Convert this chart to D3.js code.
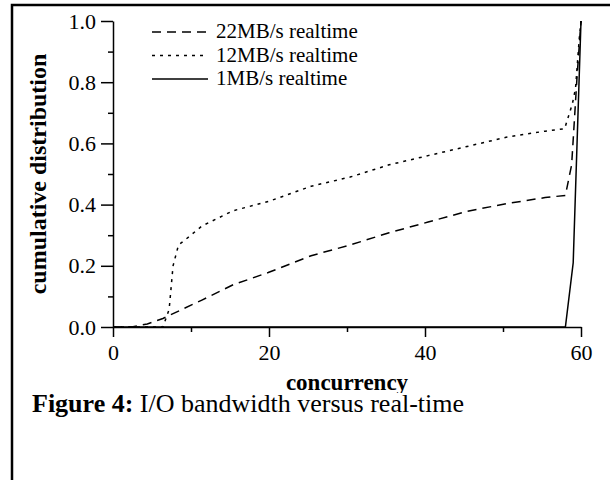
<!DOCTYPE html>
<html>
<head>
<meta charset="utf-8">
<script src="https://cdn.jsdelivr.net/npm/d3@7"></script>
<style>
    body { margin: 0; background: #fff; }
    svg { display: block; }
    text { font-family: "Liberation Serif", "Times New Roman", serif; fill: #000; }
</style>
</head>
<body>
<svg width="610" height="480"></svg>
<script>
    // values (concurrency, cumulative fraction)
    const series22X = [0, 2.4, 4.4, 6.4, 8.9, 11.4, 15.4, 19.9, 25.4, 30.4, 35.4, 40.4, 45.4, 50.4, 55.4, 58, 58.8, 59.5, 60];
    const series22Y = [0, 0, 0.01, 0.028, 0.058, 0.088, 0.138, 0.178, 0.233, 0.268, 0.308, 0.343, 0.378, 0.403, 0.423, 0.43, 0.53, 0.82, 1.0];
    const series12X = [0, 6.4, 7.2, 7.7, 8.4, 9.4, 11.4, 15.4, 19.9, 25.4, 30.4, 35.4, 40.4, 45.4, 50.4, 55.4, 57.9, 58.9, 59.3, 59.8, 60];
    const series12Y = [0, 0, 0.058, 0.2, 0.268, 0.288, 0.33, 0.38, 0.41, 0.46, 0.49, 0.53, 0.56, 0.59, 0.62, 0.64, 0.648, 0.73, 0.78, 0.95, 1.0];
    const series1X = [0, 58, 59, 60];
    const series1Y = [0, 0, 0.21, 1.0];

    const legendLabels = ["22MB/s realtime", "12MB/s realtime", "1MB/s realtime"];
    const dashes = ["9,6", "3,5", null];
    const xTicks = [0, 20, 40, 60];
    const xMinor = [10, 30, 50];
    const yTicks = [0, 0.2, 0.4, 0.6, 0.8, 1.0];
    const yMinor = [0.1, 0.3, 0.5, 0.7, 0.9];

(() => {
    const serif = "'Liberation Serif', 'Times New Roman', serif";
    const svg = d3.select("svg");

    const padLeft = 113, padTop = 21, width = 468, height = 306;

    // frame round the figure, right and bottom edges run off the picture
    svg.append("rect")
        .attr("x", 12)
        .attr("y", 5)
        .attr("width", 620)
        .attr("height", 500)
        .attr("fill", "none")
        .attr("stroke", "#000")
        .attr("stroke-width", 2.5);

    const x = d3.scaleLinear().domain([0, 60]).range([padLeft, padLeft + width]);
    const y = d3.scaleLinear().domain([0, 1]).range([padTop + height, padTop]);

    const g = svg.append("g");

    g.append("g")
        .attr("transform", `translate(0,${padTop + height})`)
        .call(d3.axisBottom(x).tickValues(xTicks).tickSize(10).tickSizeOuter(0).tickPadding(7).tickFormat(d3.format("d")));
    g.append("g")
        .attr("transform", `translate(0,${padTop + height})`)
        .call(d3.axisBottom(x).tickValues(xMinor).tickSize(5).tickSizeOuter(0).tickFormat(""))
        .select(".domain").remove();

    g.append("g")
        .attr("transform", `translate(${padLeft},0)`)
        .call(d3.axisLeft(y).tickValues(yTicks).tickSize(12).tickSizeOuter(0).tickPadding(5).tickFormat(d3.format(".1f")));
    g.append("g")
        .attr("transform", `translate(${padLeft},0)`)
        .call(d3.axisLeft(y).tickValues(yMinor).tickSize(5).tickSizeOuter(0).tickFormat(""))
        .select(".domain").remove();

    g.selectAll(".domain, .tick line").attr("stroke", "#000").attr("stroke-width", 1.5);
    g.selectAll(".tick text").style("font-size", "22px").style("font-family", serif);

    const line = d3.line().x(d => x(d[0])).y(d => y(d[1]));
    const allSeries = [
        d3.zip(series22X, series22Y),
        d3.zip(series12X, series12Y),
        d3.zip(series1X, series1Y)
    ];

    g.selectAll(".curve")
        .data(allSeries)
        .join("path")
        .attr("class", "curve")
        .attr("d", line)
        .attr("fill", "none")
        .attr("stroke", "#000")
        .attr("stroke-width", 1.5)
        .attr("stroke-dasharray", (d, i) => dashes[i]);

    // legend
    const legend = g.append("g");
    legendLabels.forEach((label, i) => {
        const ly = 32 + i * 23.5;
        legend.append("line")
            .attr("x1", 152).attr("x2", 208)
            .attr("y1", ly).attr("y2", ly)
            .attr("stroke", "#000")
            .attr("stroke-width", 1.5)
            .attr("stroke-dasharray", dashes[i]);
        legend.append("text")
            .attr("x", 216)
            .attr("y", ly + 6)
            .style("font-family", serif)
            .style("font-size", "21px")
            .text(label);
    });

    g.append("text")
        .attr("transform", `translate(46,${padTop + height / 2}) rotate(-90)`)
        .attr("text-anchor", "middle")
        .style("font-family", serif)
        .style("font-size", "24px")
        .style("font-weight", "bold")
        .text("cumulative distribution");

    g.append("text")
        .attr("x", padLeft + width / 2)
        .attr("y", 390)
        .attr("text-anchor", "middle")
        .style("font-family", serif)
        .style("font-size", "23px")
        .style("font-weight", "bold")
        .text("concurrency");

    // caption box sits over the bottom of the axis title
    svg.append("rect")
        .attr("x", 14).attr("y", 393)
        .attr("width", 596).attr("height", 86)
        .attr("fill", "#fff");

    const caption = svg.append("text")
        .attr("x", 32)
        .attr("y", 412)
        .style("font-family", serif)
        .style("font-size", "26px");
    caption.append("tspan").style("font-weight", "bold").text("Figure 4:");
    caption.append("tspan").text(" I/O bandwidth versus real-time");
})();
</script>
</body>
</html>
